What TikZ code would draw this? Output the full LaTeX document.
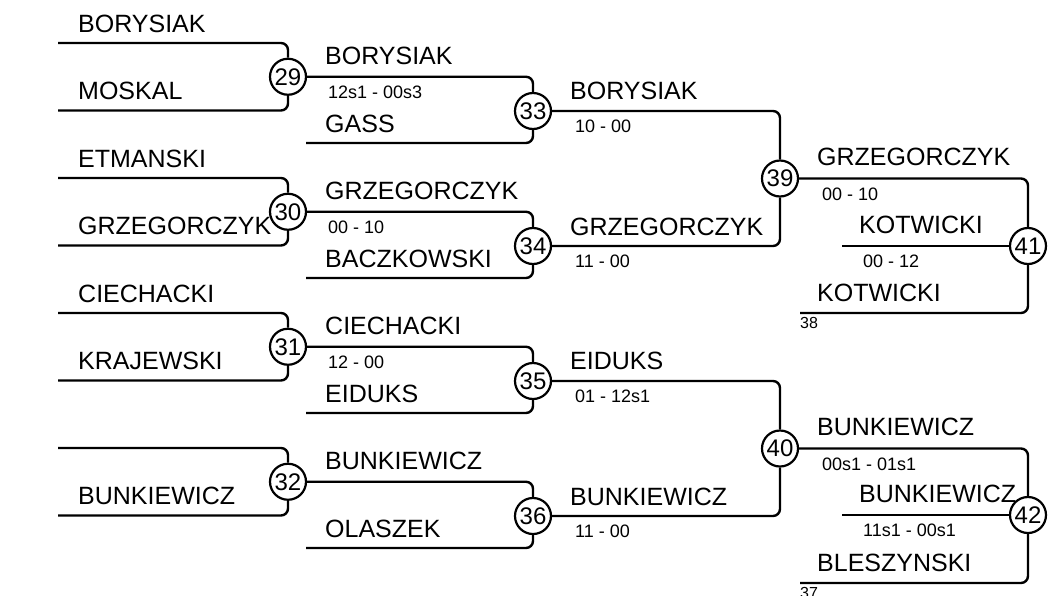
\documentclass[tikz,border=0pt]{standalone}
\usepackage{fontspec}
\setmainfont{Liberation Sans}
\begin{document}
\begin{tikzpicture}[x=1pt,y=-1pt,
  pl/.style={anchor=base west, inner sep=0pt, font=\fontsize{25}{30}\selectfont},
  sc/.style={anchor=base west, inner sep=0pt, font=\fontsize{18}{22}\selectfont},
  sm/.style={anchor=base west, inner sep=0pt, font=\fontsize{16}{19}\selectfont},
  mc/.style={circle, draw, line width=2.2pt, fill=white, minimum size=36pt, inner sep=0pt, font=\fontsize{24}{28}\selectfont},
  ln/.style={line width=2.4pt, rounded corners=7pt}]
\useasboundingbox (0,0) rectangle (1058,595);
% ---- texts round 1
\node[pl] (t1) at (78,43-11) {BORYSIAK};
\node[pl] (t2) at (78,110.5-11) {MOSKAL};
\node[pl] (t3) at (78,178-11) {ETMANSKI};
\node[pl] (t4) at (78,245.5-11) {GRZEGORCZYK};
\node[pl] (t5) at (78,313-11) {CIECHACKI};
\node[pl] (t6) at (78,380.5-11) {KRAJEWSKI};
\node[pl] (t8) at (78,515.5-11) {BUNKIEWICZ};
% ---- texts round 2
\node[pl] (u1) at (325,76.75-12) {BORYSIAK};
\node[sc] (u1s) at (328,76.75+22) {12s1 - 00s3};
\node[pl] (u2) at (325,143-11) {GASS};
\node[pl] (u3) at (325,211.75-12) {GRZEGORCZYK};
\node[sc] (u3s) at (328,211.75+22) {00 - 10};
\node[pl] (u4) at (325,278-11) {BACZKOWSKI};
\node[pl] (u5) at (325,346.75-12) {CIECHACKI};
\node[sc] (u5s) at (328,346.75+22) {12 - 00};
\node[pl] (u6) at (325,413-11) {EIDUKS};
\node[pl] (u7) at (325,481.75-12) {BUNKIEWICZ};
\node[pl] (u8) at (325,548-11) {OLASZEK};
% ---- texts round 3
\node[pl] (v1) at (570,111-12) {BORYSIAK};
\node[sc] (v1s) at (575,111+21) {10 - 00};
\node[pl] (v2) at (570,246-11) {GRZEGORCZYK};
\node[sc] (v2s) at (575,246+21) {11 - 00};
\node[pl] (v3) at (570,381-12) {EIDUKS};
\node[sc] (v3s) at (575,381+21) {01 - 12s1};
\node[pl] (v4) at (570,516-11) {BUNKIEWICZ};
\node[sc] (v4s) at (575,516+21) {11 - 00};
% ---- texts round 4
\node[pl] (w1) at (817,178.5-13) {GRZEGORCZYK};
\node[sc] (w1s) at (822,178.5+22) {00 - 10};
\node[pl] (w2) at (859,246-13) {KOTWICKI};
\node[sc] (w2s) at (863,246+21) {00 - 12};
\node[pl] (w3) at (817,313-12) {KOTWICKI};
\node[sm] (w3s) at (800,313+15) {38};
\node[pl] (w4) at (817,448.5-13) {BUNKIEWICZ};
\node[sc] (w4s) at (822,448.5+22) {00s1 - 01s1};
\node[pl] (w5) at (859,515-13) {BUNKIEWICZ};
\node[sc] (w5s) at (863,515+21) {11s1 - 00s1};
\node[pl] (w6) at (817,583-12) {BLESZYNSKI};
\node[sm] (w6s) at (800,583+15) {37};
% ---- match circles
\node[mc] (m29) at (288,76.75) {29};
\node[mc] (m30) at (288,211.75) {30};
\node[mc] (m31) at (288,346.75) {31};
\node[mc] (m32) at (288,481.75) {32};
\node[mc] (m33) at (533,111) {33};
\node[mc] (m34) at (533,246) {34};
\node[mc] (m35) at (533,381) {35};
\node[mc] (m36) at (533,516) {36};
\node[mc] (m39) at (780,178.5) {39};
\node[mc] (m40) at (780,448.5) {40};
\node[mc] (m41) at (1028,246) {41};
\node[mc] (m42) at (1028,515) {42};
% ---- free ends
\coordinate (a1) at (58,43);
\coordinate (a2) at (58,110.5);
\coordinate (a3) at (58,178);
\coordinate (a4) at (58,245.5);
\coordinate (a5) at (58,313);
\coordinate (a6) at (58,380.5);
\coordinate (a7) at (58,448);
\coordinate (a8) at (58,515.5);
\coordinate (b1) at (306,143);
\coordinate (b2) at (306,278);
\coordinate (b3) at (306,413);
\coordinate (b4) at (306,548);
\coordinate (c1) at (842,246);
\coordinate (c2) at (800,313);
\coordinate (c3) at (842,515);
\coordinate (c4) at (800,583);
% ---- connectors
\draw[ln] (a1) -| (m29);
\draw[ln] (a2) -| (m29);
\draw[ln] (a3) -| (m30);
\draw[ln] (a4) -| (m30);
\draw[ln] (a5) -| (m31);
\draw[ln] (a6) -| (m31);
\draw[ln] (a7) -| (m32);
\draw[ln] (a8) -| (m32);
\draw[ln] (m29) -| (m33);
\draw[ln] (b1) -| (m33);
\draw[ln] (m30) -| (m34);
\draw[ln] (b2) -| (m34);
\draw[ln] (m31) -| (m35);
\draw[ln] (b3) -| (m35);
\draw[ln] (m32) -| (m36);
\draw[ln] (b4) -| (m36);
\draw[ln] (m33) -| (m39);
\draw[ln] (m34) -| (m39);
\draw[ln] (m35) -| (m40);
\draw[ln] (m36) -| (m40);
\draw[ln] (m39) -| (m41);
\draw[ln] (c1) -- (m41);
\draw[ln] (c2) -| (m41);
\draw[ln] (m40) -| (m42);
\draw[ln] (c3) -- (m42);
\draw[ln] (c4) -| (m42);
\end{tikzpicture}
\end{document}
